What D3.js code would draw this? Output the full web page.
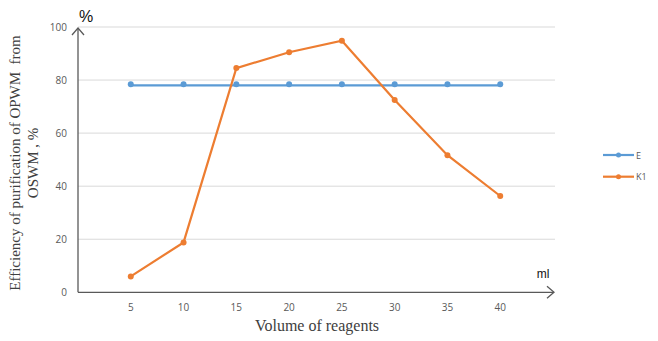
<!DOCTYPE html>
<html><head><meta charset="utf-8">
<script src="https://cdn.jsdelivr.net/npm/d3@7"></script>
<style>body{margin:0;background:#fff;} svg{display:block;}</style>
</head><body>
<svg id="chart" width="658" height="341"></svg>
<script>
const categories = [5, 10, 15, 20, 25, 30, 35, 40];
const seriesE = [78, 78, 78, 78, 78, 78, 78, 78];
const seriesK1 = [6, 18.8, 84.5, 90.5, 94.8, 72.5, 51.7, 36.3];
const yTicks = [0, 20, 40, 60, 80, 100];
const seriesNames = ["E", "K1"];
const colors = ["#5b9bd5", "#ed7d31"];

const svg = d3.select("#chart");
const x = d3.scaleLinear().domain([0, 45]).range([78, 553]);
const y = d3.scaleLinear().domain([0, 100]).range([292.3, 27]);

// gridlines
svg.append("g").selectAll("line").data(yTicks.filter(d => d > 0)).join("line")
  .attr("x1", 78).attr("x2", 555).attr("y1", d => y(d)).attr("y2", d => y(d))
  .attr("stroke", "#d9d9d9").attr("stroke-width", 1);

// y tick labels
svg.append("g").selectAll("text").data(yTicks).join("text")
  .attr("x", 67).attr("y", d => y(d) + 4).attr("text-anchor", "end")
  .attr("font-family", "Open Sans, sans-serif").attr("font-size", 10).attr("fill", "#595959")
  .text(d => d);

// x tick labels
svg.append("g").selectAll("text").data(categories).join("text")
  .attr("x", d => x(d)).attr("y", 311).attr("text-anchor", "middle")
  .attr("font-family", "Open Sans, sans-serif").attr("font-size", 10).attr("fill", "#595959")
  .text(d => d);

// axes with arrows
const axisColor = "#595959";
svg.append("line").attr("x1", 78).attr("x2", 78).attr("y1", 292.3).attr("y2", 28)
  .attr("stroke", axisColor).attr("stroke-width", 1.3);
svg.append("path").attr("d", "M72,35 L78,28 L84,35").attr("fill", "none")
  .attr("stroke", axisColor).attr("stroke-width", 1.3);
svg.append("line").attr("x1", 78).attr("x2", 554).attr("y1", 292.3).attr("y2", 292.3)
  .attr("stroke", axisColor).attr("stroke-width", 1.3);
svg.append("path").attr("d", "M547,286.3 L554,292.3 L547,298.3").attr("fill", "none")
  .attr("stroke", axisColor).attr("stroke-width", 1.3);

// series
const line = d3.line().x((d, i) => x(categories[i])).y(d => y(d));
[seriesE, seriesK1].forEach((s, k) => {
  svg.append("path").datum(s).attr("d", line).attr("fill", "none")
    .attr("stroke", colors[k]).attr("stroke-width", 2.2);
  svg.append("g").selectAll("circle").data(s).join("circle")
    .attr("cx", (d, i) => x(categories[i])).attr("cy", d => y(d) - (k === 0 ? 1 : 0)).attr("r", 3)
    .attr("fill", colors[k]);
});

// legend
seriesNames.forEach((n, k) => {
  const ly = 155 + k * 21.7;
  svg.append("line").attr("x1", 603).attr("x2", 634).attr("y1", ly).attr("y2", ly)
    .attr("stroke", colors[k]).attr("stroke-width", 2.2);
  svg.append("circle").attr("cx", 618.5).attr("cy", ly).attr("r", 2.5).attr("fill", colors[k]);
  svg.append("text").attr("x", 636).attr("y", ly + 3.5)
    .attr("font-family", "Open Sans, sans-serif").attr("font-size", 9).attr("fill", "#595959").text(n);
});

// labels
svg.append("text").attr("x", 86).attr("y", 22).attr("text-anchor", "middle")
  .attr("font-family", "Liberation Sans, Arial, sans-serif").attr("font-size", 16).attr("fill", "#111").text("%");
svg.append("text").attr("x", 543).attr("y", 278).attr("text-anchor", "middle")
  .attr("font-family", "Liberation Sans, Arial, sans-serif").attr("font-size", 12).attr("fill", "#111").text("ml");
svg.append("text").attr("x", 317).attr("y", 331).attr("text-anchor", "middle")
  .attr("font-family", "Liberation Serif, serif").attr("font-size", 16).attr("fill", "#404040").text("Volume of reagents");
const yt = svg.append("text").attr("transform", "translate(20,163) rotate(-90)")
  .attr("text-anchor", "middle").attr("font-family", "Liberation Serif, serif")
  .attr("font-size", 15).attr("fill", "#404040");
yt.append("tspan").attr("x", 0).attr("dy", 0).style("white-space", "pre").text("Efficiency of purification of OPWM  from");
yt.append("tspan").attr("x", 0).attr("dy", 18).text("OSWM , %");
</script>
</body></html>
